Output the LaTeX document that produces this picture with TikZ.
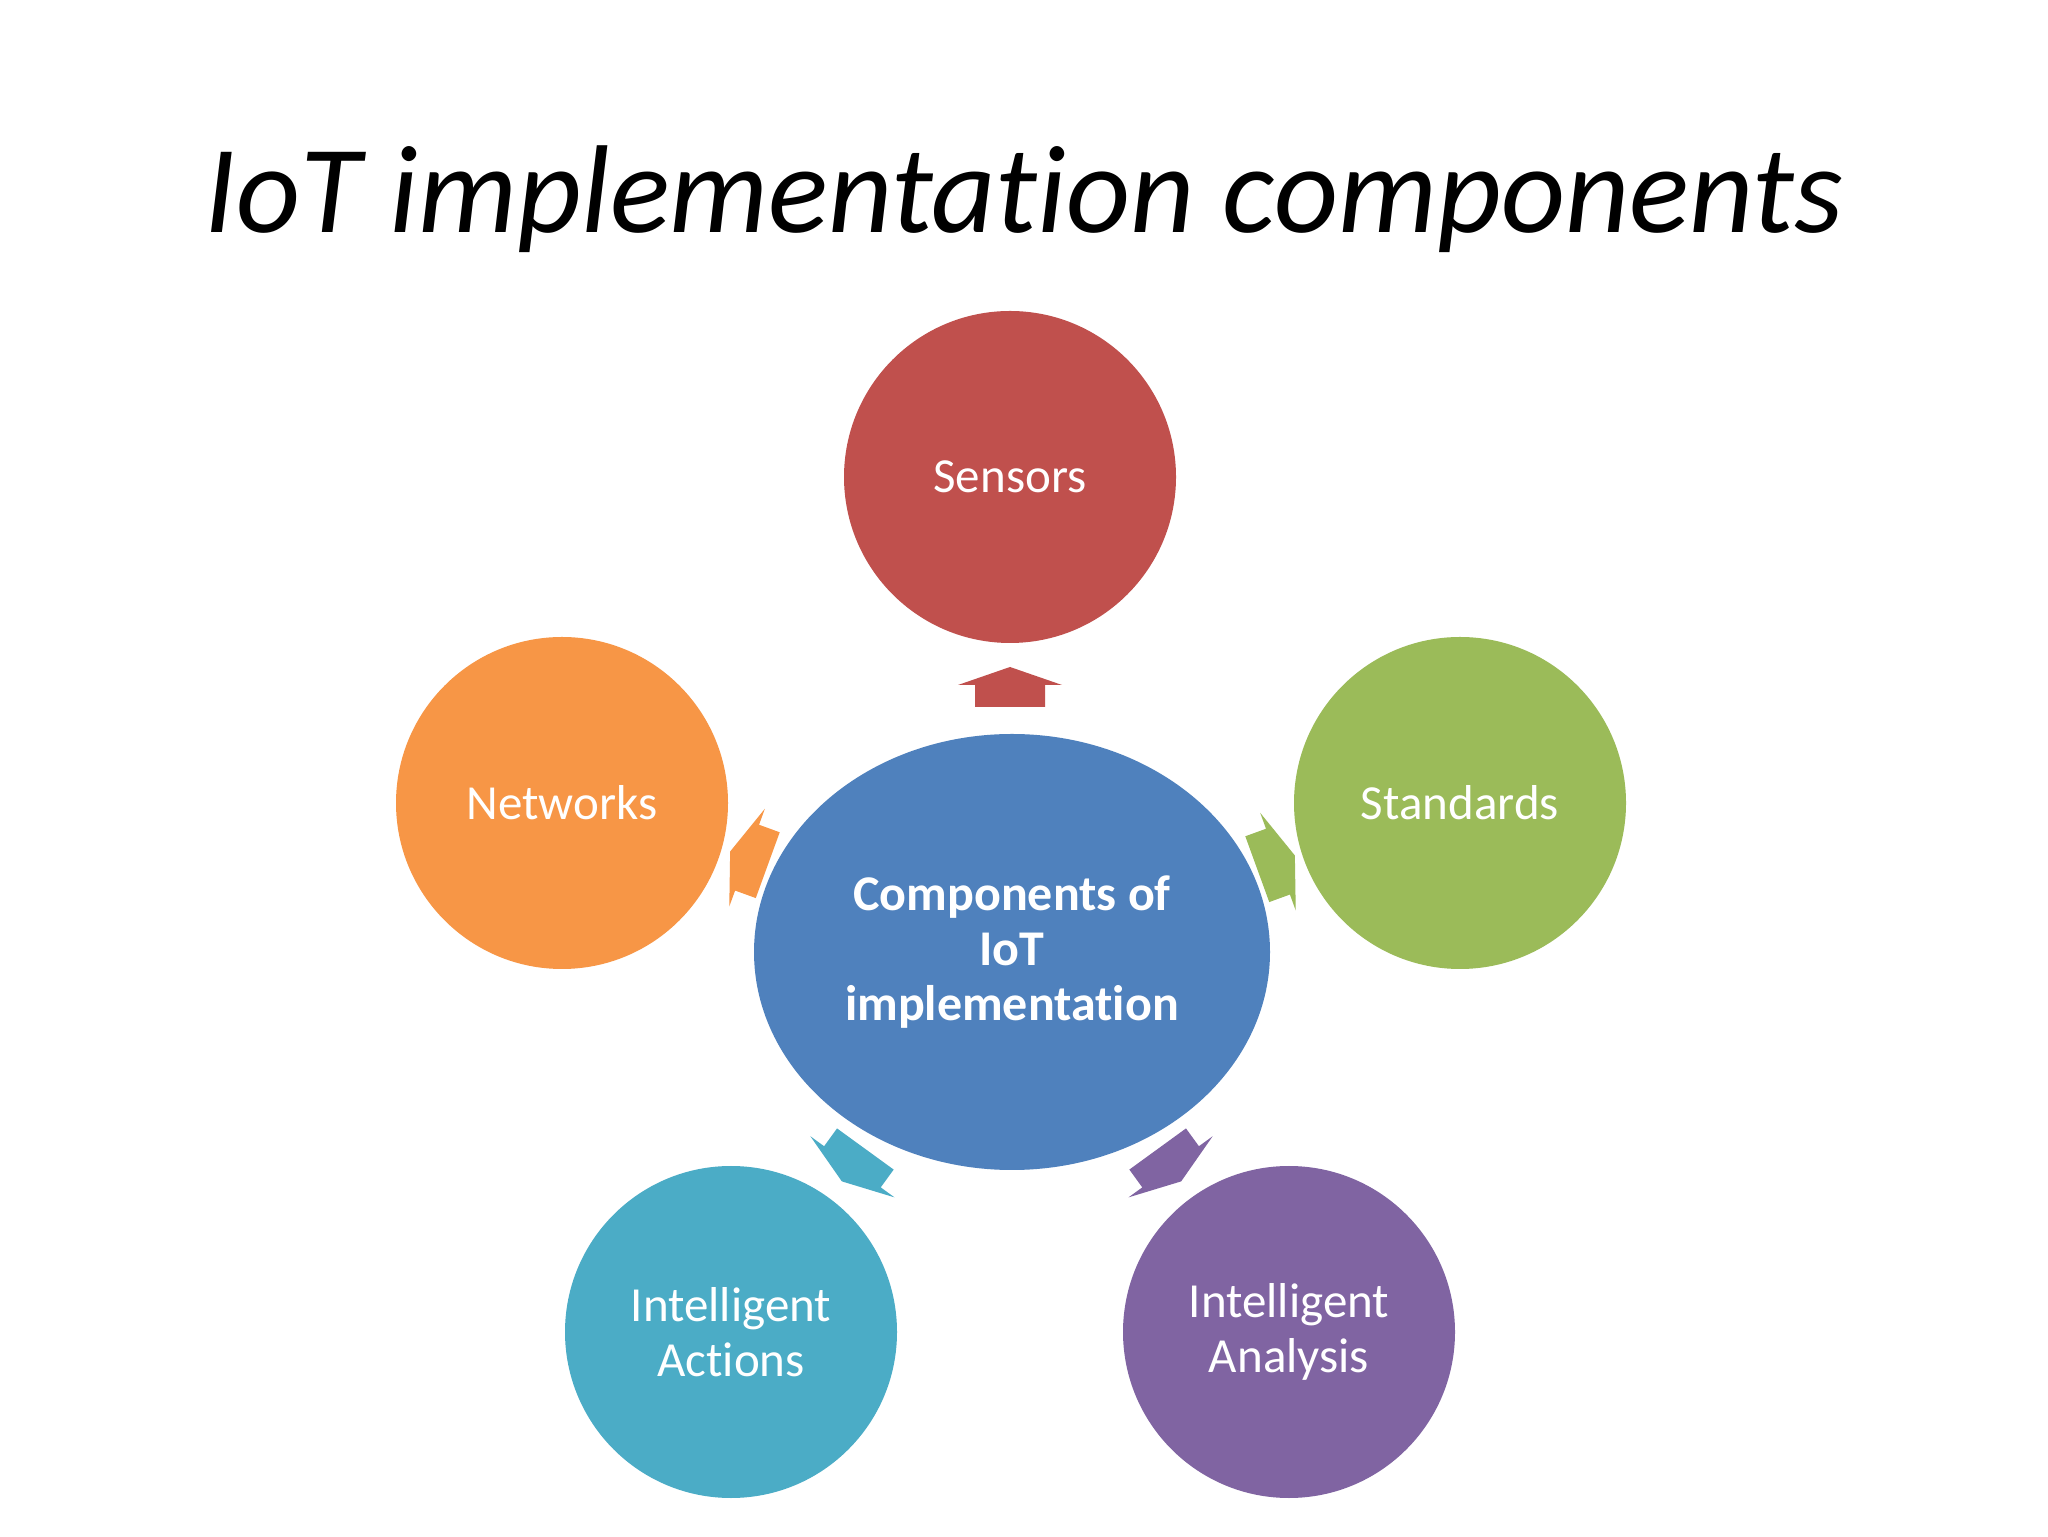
\documentclass[tikz,border=0pt]{standalone}
\usepackage{fontspec}
\setmainfont{Carlito}[Ligatures=NoCommon]
\usetikzlibrary{shapes.geometric}
\definecolor{cred}{HTML}{C0504D}
\definecolor{corange}{HTML}{F79646}
\definecolor{cgreen}{HTML}{9BBB59}
\definecolor{cblue}{HTML}{4F81BD}
\definecolor{ccyan}{HTML}{4BACC6}
\definecolor{cpurple}{HTML}{8064A2}
\begin{document}
\begin{tikzpicture}[x=0.5pt,y=0.5pt,
  sat/.style={circle, minimum size=166pt, inner sep=0pt, text=white, align=center,
    font=\fontsize{24.5}{27.5}\selectfont},
  hub/.style={ellipse, fill=cblue, minimum width=258pt, minimum height=218pt, inner sep=0pt, text=white, align=center,
    font=\bfseries\fontsize{25}{27.5}\selectfont}]
\useasboundingbox (0,0) rectangle (2048,1536);
\fill[white] (0,0) rectangle (2048,1536);
\node (title) at (1024,1337) {\fontsize{62.5}{70}\selectfont\itshape IoT implementation components};
\node[hub] (hub) at (1012,584) {Components of\\IoT\\implementation};
\node[sat, fill=cred] (sens) at (1010,1059) {Sensors};
\node[sat, fill=corange] (net) at (562,733) {Networks};
\node[sat, fill=cgreen] (std) at (1460,733) {Standards};
\node[sat, fill=ccyan] (act) at (731,204) {Intelligent\\Actions};
\node[sat, fill=cpurple] (ana) at (1289,204) {Intelligent\\Analysis};
\newcommand{\blockarrow}[3]{%
  \fill[#3, shift={(#1)}, rotate=#2] (19,0) -- (1,52) -- (1,35) -- (-21,35) -- (-21,-35) -- (1,-35) -- (1,-52) -- cycle;}
\coordinate (a1) at (1010,850);
\coordinate (a2) at (748,678);
\coordinate (a3) at (1277,674);
\coordinate (a4) at (853,370);
\coordinate (a5) at (1170,370);
\blockarrow{a1}{90}{cred}
\blockarrow{a2}{160}{corange}
\blockarrow{a3}{20}{cgreen}
\blockarrow{a4}{234}{ccyan}
\blockarrow{a5}{306}{cpurple}
\end{tikzpicture}
\end{document}
